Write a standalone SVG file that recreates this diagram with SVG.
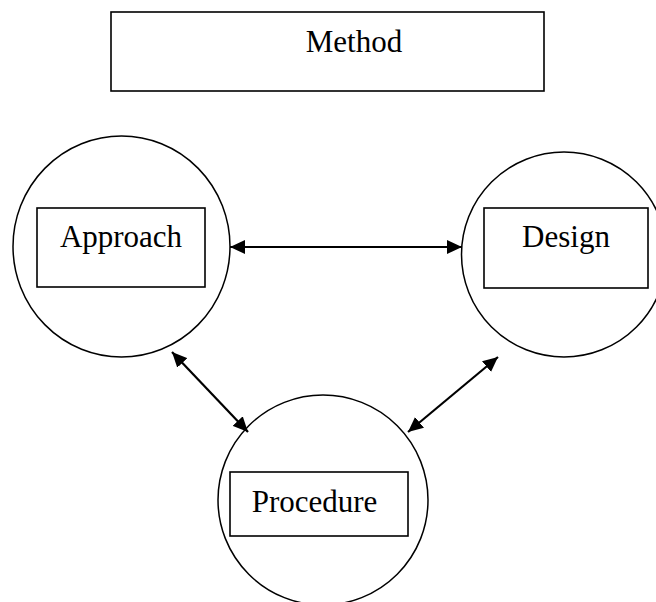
<svg xmlns="http://www.w3.org/2000/svg" width="656" height="602" viewBox="0 0 656 602">
<style>
.shape{fill:none;stroke:#000;stroke-width:1.5}
.box{fill:#fff;stroke:#000;stroke-width:1.6}
.lbl{font-family:"Liberation Serif","Times New Roman",serif;font-size:31px;fill:#000;text-anchor:middle}
.conn{stroke:#000;stroke-width:2.2;fill:none;marker-start:url(#ah);marker-end:url(#ah)}
</style>
<defs>
<marker id="ah" markerUnits="userSpaceOnUse" markerWidth="16" markerHeight="14" refX="15" refY="7" orient="auto-start-reverse" viewBox="0 0 16 14">
<path d="M0,0 L15,7 L0,14 Z" fill="#000"/>
</marker>
</defs>
<rect width="656" height="602" fill="#fff"/>
<g id="method">
<rect class="box" x="111" y="12" width="433" height="79"/>
<text class="lbl" x="354" y="52">Method</text>
</g>
<g id="approach">
<ellipse class="shape" cx="121.5" cy="246.5" rx="108.5" ry="110.5"/>
<rect class="box" x="37" y="208" width="168" height="79"/>
<text class="lbl" x="121" y="247">Approach</text>
</g>
<g id="design">
<circle class="shape" cx="564" cy="254.5" r="102.5"/>
<rect class="box" x="484" y="208" width="164" height="80"/>
<text class="lbl" x="566" y="247">Design</text>
</g>
<g id="procedure">
<ellipse class="shape" cx="323" cy="500" rx="105" ry="105"/>
<rect class="box" x="230" y="472" width="178" height="64"/>
<text class="lbl" x="314.5" y="512">Procedure</text>
</g>
<g id="connectors">
<line class="conn" x1="230" y1="247" x2="462" y2="247"/>
<line class="conn" x1="172" y1="352" x2="248" y2="432"/>
<line class="conn" x1="498" y1="357" x2="408" y2="432"/>
</g>
</svg>
